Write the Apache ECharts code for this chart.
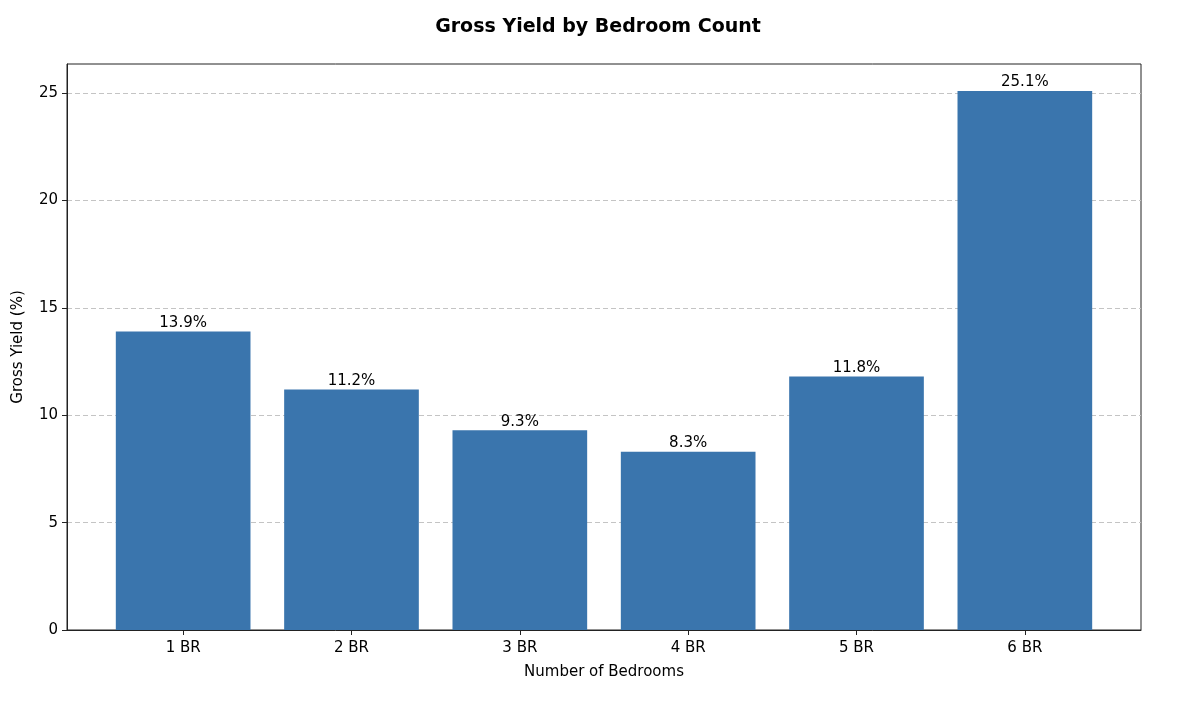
<!DOCTYPE html>
<html><head><meta charset="utf-8">
<script src="https://cdn.jsdelivr.net/npm/echarts@6/dist/echarts.min.js"></script>
<style>html,body{margin:0;padding:0;background:#fff}#c{width:1196px;height:702px}</style>
</head><body><div id="c"></div>
<script>
const categories = ['1 BR','2 BR','3 BR','4 BR','5 BR','6 BR'];
const yieldValues = [13.9, 11.2, 9.3, 8.3, 11.8, 25.1];
const yTicks = [0, 5, 10, 15, 20, 25];

const font = 'DejaVu Sans';
const idx = categories.map((_, i) => i);
const chart = echarts.init(document.getElementById('c'), null, {renderer: 'canvas'});
chart.setOption({
  animation: false,
  title: {text: 'Gross Yield by Bedroom Count', left: 'center', top: 13,
    textStyle: {fontFamily: font, fontSize: 19, fontWeight: 'bold', color: '#000'}},
  grid: {left: 67, right: 55, top: 64, bottom: 72, show: true, borderColor: '#222', borderWidth: 1, backgroundColor: 'transparent'},
  xAxis: {
    type: 'value', min: -0.69, max: categories.length - 0.31,
    name: 'Number of Bedrooms', nameLocation: 'middle', nameGap: 35,
    nameTextStyle: {fontFamily: font, fontSize: 15, color: '#000'},
    axisLine: {show: true, onZero: false, lineStyle: {color: '#222'}},
    axisTick: {show: true, customValues: idx, length: 5, lineStyle: {color: '#222'}},
    axisLabel: {customValues: idx, formatter: v => categories[Math.round(v)] || '',
      fontFamily: font, fontSize: 15, color: '#000', margin: 11},
    splitLine: {show: false}
  },
  yAxis: {
    type: 'value', min: 0, max: 26.355,
    name: 'Gross Yield (%)', nameLocation: 'middle', nameGap: 41,
    nameTextStyle: {fontFamily: font, fontSize: 15, color: '#000'},
    axisLine: {show: true, onZero: false, lineStyle: {color: '#222'}},
    axisTick: {show: true, customValues: yTicks, length: 5, lineStyle: {color: '#222'}},
    axisLabel: {customValues: yTicks, fontFamily: font, fontSize: 15, color: '#000', margin: 9},
    splitLine: {show: true, lineStyle: {color: '#c4c4c4', type: [5, 3], width: 1}}
  },
  series: [{
    type: 'bar',
    data: yieldValues.map((v, i) => [i, v]),
    barWidth: '80%',
    itemStyle: {color: '#3a75ad'},
    label: {show: true, position: 'top', distance: 1, formatter: p => p.value[1].toFixed(1) + '%',
      fontFamily: font, fontSize: 15, color: '#000'}
  }]
});
</script></body></html>
